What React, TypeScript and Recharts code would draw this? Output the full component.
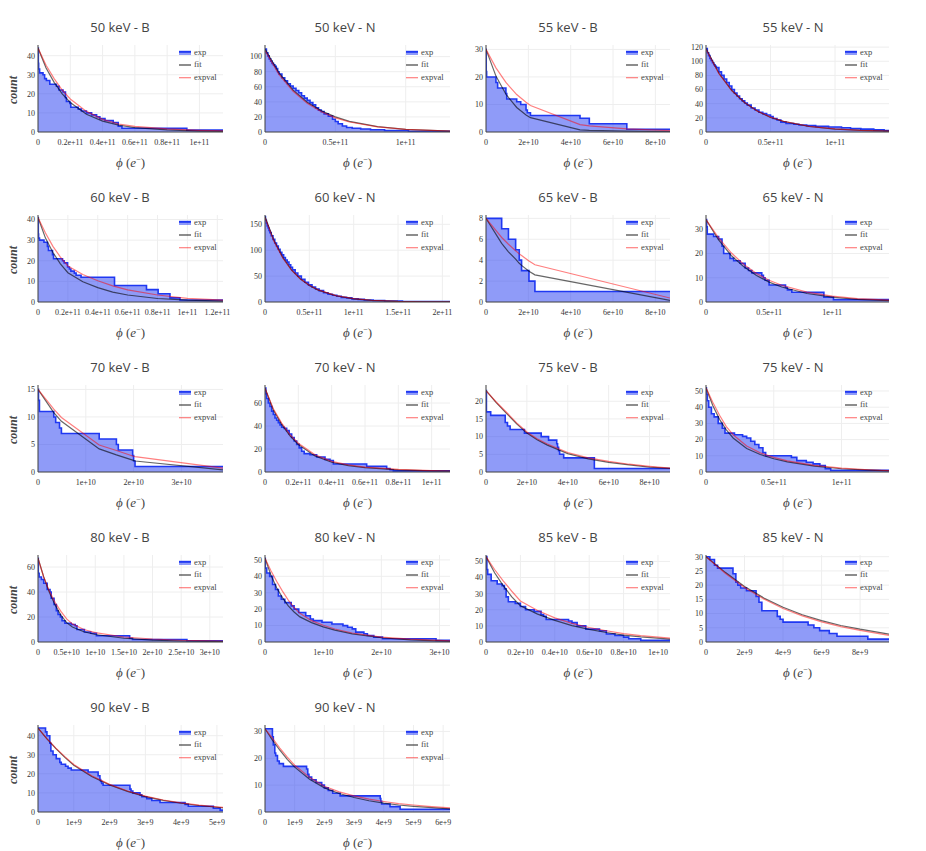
import React from "react";
import { ComposedChart, Area, Line, XAxis, YAxis, CartesianGrid } from "recharts";

// ---- x tick sets (values in panel units, labels as printed) ----
const TICKS_E11_FINE = [0, 0.2, 0.4, 0.6, 0.8, 1];
const LABELS_E11_FINE = ["0", "0.2e+11", "0.4e+11", "0.6e+11", "0.8e+11", "1e+11"];
const TICKS_E11_FINE12 = [0, 0.2, 0.4, 0.6, 0.8, 1, 1.2];
const LABELS_E11_FINE12 = ["0", "0.2e+11", "0.4e+11", "0.6e+11", "0.8e+11", "1e+11", "1.2e+11"];
const TICKS_E11_HALF = [0, 0.5, 1];
const LABELS_E11_HALF = ["0", "0.5e+11", "1e+11"];
const TICKS_E11_HALF2 = [0, 0.5, 1, 1.5, 2];
const LABELS_E11_HALF2 = ["0", "0.5e+11", "1e+11", "1.5e+11", "2e+11"];
const TICKS_E10_TWO = [0, 2, 4, 6, 8];
const LABELS_E10_TWO = ["0", "2e+10", "4e+10", "6e+10", "8e+10"];
const TICKS_E10_ONE = [0, 1, 2, 3];
const LABELS_E10_ONE = ["0", "1e+10", "2e+10", "3e+10"];
const TICKS_E10_HALF = [0, 0.5, 1, 1.5, 2, 2.5, 3];
const LABELS_E10_HALF = ["0", "0.5e+10", "1e+10", "1.5e+10", "2e+10", "2.5e+10", "3e+10"];
const TICKS_E10_FINE = [0, 0.2, 0.4, 0.6, 0.8, 1];
const LABELS_E10_FINE = ["0", "0.2e+10", "0.4e+10", "0.6e+10", "0.8e+10", "1e+10"];
const TICKS_E9_TWO = [0, 2, 4, 6, 8];
const LABELS_E9_TWO = ["0", "2e+9", "4e+9", "6e+9", "8e+9"];
const TICKS_E9_FIVE = [0, 1, 2, 3, 4, 5];
const LABELS_E9_FIVE = ["0", "1e+9", "2e+9", "3e+9", "4e+9", "5e+9"];
const TICKS_E9_SIX = [0, 1, 2, 3, 4, 5, 6];
const LABELS_E9_SIX = ["0", "1e+9", "2e+9", "3e+9", "4e+9", "5e+9", "6e+9"];

// ---- 50 keV - B (phi in 1e11) ----
const b50_phi = [0, 0.002, 0.004, 0.01, 0.031, 0.041, 0.052, 0.073, 0.114, 0.13, 0.155, 0.17, 0.176, 0.197, 0.203, 0.249, 0.269, 0.3, 0.332, 0.363, 0.383, 0.415, 0.466, 0.497, 0.52, 0.922, 1.146];
const b50_count = [44, 36, 33, 31, 30, 28, 27, 25, 24, 22, 21, 18, 16, 15, 13, 12, 11, 10, 9, 8, 7, 6, 5, 3, 2, 1, 1];
const b50_curvePhi = [0, 0.05, 0.1, 0.15, 0.2, 0.3, 0.4, 0.5, 0.6, 0.8, 1.0, 1.146];
const b50_fit = [44, 33.5, 26, 20, 15.5, 9.3, 5.7, 3.6, 2.3, 1.1, 0.5, 0.3];
const b50_expval = [44, 35, 28, 22, 17.3, 10.8, 6.6, 4.2, 2.9, 1.6, 0.9, 0.6];

// ---- 50 keV - N (1e11) ----
const n50_phi = [0, 0.01, 0.02, 0.03, 0.04, 0.05, 0.06, 0.07, 0.08, 0.09, 0.1, 0.12, 0.14, 0.16, 0.18, 0.2, 0.22, 0.24, 0.26, 0.28, 0.3, 0.32, 0.34, 0.36, 0.38, 0.4, 0.42, 0.45, 0.48, 0.5, 0.52, 0.55, 0.58, 0.62, 0.68, 0.75, 0.85, 1.02, 1.315];
const n50_count = [110, 105, 101, 97, 94, 91, 89, 87, 84, 80, 77, 72, 68, 64, 61, 58, 55, 52, 48, 45, 42, 39, 36, 32, 29, 27, 24, 21, 17, 14, 11, 8, 6, 5, 4, 3, 2, 1, 1];
const n50_curvePhi = [0, 0.1, 0.2, 0.3, 0.4, 0.5, 0.6, 0.8, 1.0, 1.315];
const n50_fit = [110, 78.2, 55.6, 39.5, 28.1, 20, 14.2, 7.2, 3.6, 1.2];
const n50_expval = [108, 76, 54, 38, 26.8, 18.8, 13.3, 6.8, 3.4, 1.2];

// ---- 55 keV - B (1e10) ----
const b55_phi = [0, 0.01, 0.03, 0.47, 0.55, 0.94, 0.98, 1.45, 1.64, 1.89, 1.95, 2.1, 4.44, 4.88, 6.65, 8.69];
const b55_count = [30, 22, 20, 18, 16, 14, 12, 11, 10, 8, 7, 6, 5, 3, 1, 1];
const b55_curvePhi = [0, 0.47, 0.94, 1.45, 1.89, 2.1, 4.44, 4.88, 6.65, 8.69];
const b55_fit = [30, 20.3, 13.7, 8.9, 6.2, 5.2, 0.8, 0.6, 0.3, 0.15];
const b55_expval = [30, 23.3, 18, 13.6, 10.8, 9.6, 2.7, 2.2, 1.1, 0.5];

// ---- 55 keV - N (1e11) ----
const n55_phi = [0, 0.01, 0.02, 0.03, 0.04, 0.05, 0.06, 0.07, 0.08, 0.1, 0.12, 0.14, 0.16, 0.18, 0.2, 0.22, 0.24, 0.26, 0.28, 0.3, 0.32, 0.35, 0.38, 0.41, 0.44, 0.47, 0.5, 0.52, 0.55, 0.58, 0.62, 0.68, 0.72, 0.78, 0.85, 0.95, 1.05, 1.12, 1.2, 1.3, 1.38, 1.418];
const n55_count = [118, 112, 108, 104, 101, 98, 95, 93, 91, 85, 80, 75, 70, 65, 60, 55, 51, 47, 44, 41, 38, 34, 31, 28, 26, 24, 22, 19, 17, 14, 12, 11, 10, 9, 8, 7, 6, 5, 4, 3, 2, 1];
const n55_curvePhi = [0, 0.1, 0.2, 0.3, 0.4, 0.5, 0.6, 0.8, 1.0, 1.2, 1.418];
const n55_fit = [118, 83, 58.6, 41.3, 29.2, 20.5, 15, 7.8, 4.2, 2.3, 1.2];
const n55_expval = [117, 82.5, 58.5, 41.5, 29.5, 21, 15.2, 8, 4.4, 2.4, 1.3];

// ---- 60 keV - B (1e11) ----
const b60_phi = [0, 0.002, 0.004, 0.01, 0.04, 0.063, 0.07, 0.097, 0.104, 0.164, 0.175, 0.198, 0.21, 0.22, 0.243, 0.255, 0.288, 0.512, 0.726, 0.804, 0.883, 0.95, 1.238];
const b60_count = [41, 33, 31, 30, 29, 27, 25, 23, 21, 20, 19, 17, 16, 15, 14, 13, 12, 8, 6, 4, 2, 1, 1];
const b60_curvePhi = [0, 0.05, 0.1, 0.15, 0.2, 0.3, 0.4, 0.5, 0.6, 0.8, 1.0, 1.238];
const b60_fit = [41, 31, 24, 18.5, 14.2, 9.8, 7.0, 4.8, 3.4, 1.7, 0.9, 0.4];
const b60_expval = [41, 33.5, 27, 21.8, 17.5, 13.3, 10.3, 7.8, 5.9, 3.4, 1.8, 0.9];

// ---- 60 keV - N (1e11) ----
const n60_phi = [0, 0.005, 0.015, 0.025, 0.035, 0.045, 0.055, 0.07, 0.09, 0.11, 0.13, 0.15, 0.17, 0.19, 0.21, 0.23, 0.25, 0.27, 0.29, 0.31, 0.34, 0.37, 0.41, 0.45, 0.49, 0.53, 0.57, 0.61, 0.66, 0.71, 0.76, 0.81, 0.86, 0.92, 0.98, 1.05, 1.12, 1.22, 1.35, 1.55, 2.086];
const n60_count = [165, 158, 152, 147, 143, 138, 134, 128, 121, 114, 108, 102, 96, 91, 86, 81, 77, 72, 67, 62, 56, 50, 44, 38, 33, 29, 25, 22, 18, 15, 13, 11, 9, 8, 6, 5, 4, 3, 2, 1, 1];
const n60_curvePhi = [0, 0.1, 0.2, 0.3, 0.4, 0.5, 0.6, 0.8, 1.0, 1.2, 1.5, 1.8, 2.086];
const n60_fit = [165, 119, 86, 61.5, 44.5, 32, 23, 12, 6.2, 3.2, 1.2, 0.45, 0.18];
const n60_expval = [163, 118, 85, 61.5, 44.5, 32.3, 23.3, 12.2, 6.5, 3.4, 1.3, 0.5, 0.2];

// ---- 65 keV - B (1e10) ----
const b65_phi = [0, 0.74, 1.06, 1.4, 1.57, 1.68, 2.03, 2.31, 8.69];
const b65_count = [8, 7, 6, 5, 4, 3, 2, 1, 1];
const b65_curvePhi = [0, 0.74, 1.06, 1.4, 1.57, 1.68, 2.03, 2.31, 8.69];
const b65_fit = [8, 5.6, 4.8, 4.1, 3.7, 3.5, 2.95, 2.6, 0.15];
const b65_expval = [8, 6.17, 5.52, 4.9, 4.6, 4.44, 3.92, 3.56, 0.38];

// ---- 65 keV - N (1e11) ----
const n65_phi = [0, 0.005, 0.01, 0.06, 0.1, 0.127, 0.14, 0.19, 0.219, 0.27, 0.31, 0.337, 0.363, 0.442, 0.455, 0.468, 0.5, 0.63, 0.645, 0.68, 0.934, 1.01, 1.45];
const n65_count = [34, 31, 28, 27, 26, 23, 20, 18, 17, 16, 14, 13, 12, 11, 10, 9, 7, 6, 5, 4, 2, 1, 1];
const n65_curvePhi = [0, 0.1, 0.2, 0.3, 0.4, 0.5, 0.6, 0.8, 1.0, 1.2, 1.45];
const n65_fit = [34, 25.6, 19.2, 14.5, 10.9, 8.2, 6.2, 3.5, 2.0, 1.1, 0.56];
const n65_expval = [34, 26.5, 20.3, 15.5, 11.8, 9.0, 6.9, 4.1, 2.4, 1.4, 0.8];

// ---- 70 keV - B (1e10) ----
const b70_phi = [0, 0.01, 0.03, 0.33, 0.37, 0.45, 0.49, 1.28, 1.64, 1.68, 1.98, 2.0, 2.03, 3.87];
const b70_count = [15, 13, 11, 10, 9, 8, 7, 6, 5, 4, 3, 2, 1, 1];
const b70_curvePhi = [0, 0.33, 0.49, 1.28, 1.64, 1.98, 2.03, 3.87];
const b70_fit = [15, 10.8, 9.2, 4.2, 3.1, 2.15, 2.0, 0.4];
const b70_expval = [15, 11.4, 9.9, 4.9, 3.9, 2.9, 2.8, 0.7];

// ---- 70 keV - N (1e11) ----
const n70_phi = [0, 0.005, 0.01, 0.02, 0.03, 0.04, 0.05, 0.06, 0.07, 0.08, 0.09, 0.1, 0.115, 0.13, 0.145, 0.16, 0.175, 0.19, 0.205, 0.22, 0.235, 0.27, 0.31, 0.36, 0.39, 0.41, 0.61, 0.73, 0.75, 0.77, 1.11];
const n70_count = [73, 68, 64, 60, 57, 53, 50, 47, 45, 43, 41, 39, 38, 36, 33, 30, 27, 24, 21, 18, 16, 15, 13, 11, 10, 7, 5, 3, 2, 1, 1];
const n70_curvePhi = [0, 0.05, 0.1, 0.15, 0.2, 0.3, 0.4, 0.5, 0.6, 0.8, 1.0, 1.11];
const n70_fit = [73, 54, 41.5, 31.5, 24, 14, 8.5, 5.6, 3.8, 1.9, 1.0, 0.7];
const n70_expval = [73, 55, 42.5, 32.5, 25, 15, 9.3, 6.2, 4.3, 2.2, 1.2, 0.85];

// ---- 75 keV - B (1e10) ----
const b75_phi = [0, 0.02, 0.23, 0.94, 1.05, 1.18, 1.88, 2.7, 3.06, 3.46, 3.5, 3.55, 3.6, 3.8, 5.3, 9.0];
const b75_count = [23, 17, 16, 14, 13, 12, 11, 10, 9, 8, 7, 6, 5, 4, 1, 1];
const b75_curvePhi = [0, 0.5, 1, 1.5, 2, 2.5, 3, 4, 5, 6, 7, 8, 9];
const b75_fit = [23, 19.6, 16.6, 13.6, 11.0, 9.1, 7.6, 5.2, 3.7, 2.7, 2.0, 1.4, 1.0];
const b75_expval = [23, 19.8, 16.9, 13.9, 11.3, 9.4, 7.9, 5.5, 4.0, 3.0, 2.2, 1.6, 1.1];

// ---- 75 keV - N (1e11) ----
const n75_phi = [0, 0.003, 0.01, 0.02, 0.04, 0.06, 0.09, 0.12, 0.14, 0.21, 0.27, 0.3, 0.33, 0.36, 0.39, 0.42, 0.44, 0.63, 0.67, 0.74, 0.79, 0.84, 0.88, 0.92, 1.35];
const n75_count = [52, 48, 44, 40, 36, 34, 30, 27, 24, 23, 22, 21, 19, 17, 15, 12, 10, 9, 7, 6, 5, 4, 2, 1, 1];
const n75_curvePhi = [0, 0.05, 0.1, 0.15, 0.2, 0.3, 0.4, 0.5, 0.6, 0.8, 1.0, 1.2, 1.35];
const n75_fit = [52, 41, 32.5, 26, 21, 14.5, 10.8, 8.2, 6.2, 3.6, 2.0, 1.1, 0.7];
const n75_expval = [52, 43, 35, 28, 23, 16, 11.8, 9.0, 6.9, 4.1, 2.4, 1.4, 0.9];

// ---- 80 keV - B (1e10) ----
const b80_phi = [0, 0.005, 0.02, 0.06, 0.1, 0.16, 0.21, 0.23, 0.28, 0.32, 0.35, 0.39, 0.42, 0.47, 0.58, 0.65, 0.68, 0.81, 0.92, 1.02, 1.6, 1.65, 2.6, 3.23];
const b80_count = [67, 55, 52, 50, 47, 42, 40, 35, 30, 25, 22, 20, 17, 15, 14, 13, 10, 8, 7, 5, 3, 2, 1, 1];
const b80_curvePhi = [0, 0.1, 0.2, 0.3, 0.4, 0.5, 0.6, 0.8, 1.0, 1.5, 2.0, 2.5, 3.23];
const b80_fit = [67, 52, 39.5, 29.5, 21.5, 15.5, 12, 8.2, 6, 3, 1.5, 0.8, 0.3];
const b80_expval = [67, 52, 40.5, 31.5, 24.5, 18.5, 14.5, 10, 7.5, 4, 2.4, 1.4, 0.8];

// ---- 80 keV - N (1e10) ----
const n80_phi = [0, 0.005, 0.03, 0.08, 0.13, 0.18, 0.23, 0.28, 0.34, 0.45, 0.5, 0.58, 0.7, 0.78, 0.83, 0.98, 1.15, 1.34, 1.42, 1.5, 1.56, 1.7, 1.76, 1.87, 2.02, 2.94, 3.18];
const n80_count = [51, 45, 42, 40, 35, 32, 28, 26, 24, 22, 20, 18, 16, 14, 13, 12, 11, 10, 9, 8, 6, 5, 4, 3, 2, 1, 1];
const n80_curvePhi = [0, 0.1, 0.2, 0.3, 0.4, 0.5, 0.6, 0.8, 1.0, 1.2, 1.5, 2.0, 2.5, 3.18];
const n80_fit = [51, 41, 33, 27, 22, 18.3, 15.3, 11.8, 9.2, 7.2, 5.0, 2.6, 1.3, 0.4];
const n80_expval = [51, 43.5, 37, 31, 25.5, 21, 17.5, 13, 10.2, 7.9, 5.5, 3.0, 1.7, 0.7];

// ---- 85 keV - B (1e10) ----
const b85_phi = [0, 0.005, 0.01, 0.03, 0.065, 0.093, 0.107, 0.117, 0.13, 0.17, 0.2, 0.23, 0.28, 0.32, 0.335, 0.35, 0.48, 0.5, 0.53, 0.58, 0.66, 0.7, 0.75, 0.8, 0.83, 0.9, 1.07];
const b85_count = [53, 45, 42, 38, 36, 35, 33, 28, 25, 24, 22, 20, 19, 17, 16, 14, 13, 12, 10, 8, 7, 5, 4, 3, 2, 1, 1];
const b85_curvePhi = [0, 0.05, 0.1, 0.15, 0.2, 0.3, 0.4, 0.5, 0.6, 0.7, 0.8, 0.9, 1.07];
const b85_fit = [53, 43, 35, 28, 22.5, 17.3, 13.4, 10.2, 7.8, 5.9, 4.3, 3.2, 1.8];
const b85_expval = [53, 45, 38, 31.5, 25.5, 19.5, 15, 11.6, 9.0, 7.0, 5.2, 4.0, 2.4];

// ---- 85 keV - N (1e9) ----
const n85_phi = [0, 0.2, 0.44, 0.6, 1.4, 1.55, 1.65, 1.8, 2.1, 2.6, 2.75, 2.9, 3.7, 3.85, 4.0, 5.3, 5.6, 5.9, 6.4, 6.8, 8.4, 9.5];
const n85_count = [30, 29, 27, 26, 24, 21, 20, 19, 18, 16, 14, 11, 9, 8, 7, 6, 5, 4, 3, 2, 1, 1];
const n85_curvePhi = [0, 1, 2, 3, 4, 5, 6, 7, 8, 9.5];
const n85_fit = [30, 24.5, 19.5, 15.5, 12.2, 9.6, 7.5, 5.8, 4.5, 2.8];
const n85_expval = [30, 24.2, 19.2, 15.1, 11.8, 9.2, 7.1, 5.4, 4.1, 2.3];

// ---- 90 keV - B (1e9) ----
const b90_phi = [0, 0.21, 0.25, 0.33, 0.36, 0.42, 0.51, 0.61, 0.65, 0.77, 0.84, 0.93, 1.4, 1.68, 1.73, 1.75, 1.78, 1.82, 2.57, 2.6, 2.65, 2.85, 2.9, 3.04, 3.18, 3.41, 4.11, 4.2, 4.9, 5.09, 5.17];
const b90_count = [44, 42, 40, 36, 32, 30, 28, 26, 25, 24, 23, 22, 21, 19, 17, 16, 15, 14, 12, 11, 10, 9, 8, 7, 6, 5, 4, 3, 2, 1, 1];
const b90_curvePhi = [0, 0.25, 0.5, 0.75, 1, 1.5, 2, 2.5, 3, 3.5, 4, 4.5, 5, 5.17];
const b90_fit = [44, 38.3, 33.2, 28.6, 24.5, 18.6, 14.2, 10.8, 8.1, 6.1, 4.6, 3.4, 2.5, 2.2];
const b90_expval = [44, 38.5, 33.5, 29, 24.9, 19, 14.5, 11, 8.3, 6.3, 4.8, 3.6, 2.7, 2.4];

// ---- 90 keV - N (1e9) ----
const n90_phi = [0, 0.25, 0.28, 0.33, 0.36, 0.42, 0.48, 0.62, 1.4, 1.44, 1.48, 1.57, 1.72, 1.91, 2.0, 2.13, 2.28, 2.53, 3.88, 3.9, 3.93, 4.21, 4.55, 6.23];
const n90_count = [31, 28, 25, 22, 21, 19, 18, 17, 16, 14, 13, 12, 11, 10, 9, 8, 7, 6, 5, 4, 3, 2, 1, 1];
const n90_curvePhi = [0, 0.25, 0.5, 0.75, 1, 1.5, 2, 2.5, 3, 3.5, 4, 4.5, 5, 5.5, 6.23];
const n90_fit = [31, 26.8, 23, 19.6, 16.7, 12.2, 9.0, 6.9, 5.4, 4.2, 3.3, 2.6, 2.1, 1.7, 1.2];
const n90_expval = [31, 27.5, 23.8, 20.4, 17.4, 12.9, 9.6, 7.5, 6.0, 4.8, 3.9, 3.1, 2.6, 2.1, 1.5];

const PANELS = [
  { title: "50 keV - B", unit: 1e11, xMax: 1.146, yTop: 45.6, yTicks: [0, 10, 20, 30, 40], xTicks: TICKS_E11_FINE, xLabels: LABELS_E11_FINE, phi: b50_phi, count: b50_count, curvePhi: b50_curvePhi, fit: b50_fit, expval: b50_expval },
  { title: "50 keV - N", unit: 1e11, xMax: 1.315, yTop: 115.4, yTicks: [0, 20, 40, 60, 80, 100], xTicks: TICKS_E11_HALF, xLabels: LABELS_E11_HALF, phi: n50_phi, count: n50_count, curvePhi: n50_curvePhi, fit: n50_fit, expval: n50_expval },
  { title: "55 keV - B", unit: 1e10, xMax: 8.69, yTop: 31.6, yTicks: [0, 10, 20, 30], xTicks: TICKS_E10_TWO, xLabels: LABELS_E10_TWO, phi: b55_phi, count: b55_count, curvePhi: b55_curvePhi, fit: b55_fit, expval: b55_expval },
  { title: "55 keV - N", unit: 1e11, xMax: 1.418, yTop: 123, yTicks: [0, 20, 40, 60, 80, 100, 120], xTicks: TICKS_E11_HALF, xLabels: LABELS_E11_HALF, phi: n55_phi, count: n55_count, curvePhi: n55_curvePhi, fit: n55_fit, expval: n55_expval },
  { title: "60 keV - B", unit: 1e11, xMax: 1.238, yTop: 42.2, yTicks: [0, 10, 20, 30, 40], xTicks: TICKS_E11_FINE12, xLabels: LABELS_E11_FINE12, phi: b60_phi, count: b60_count, curvePhi: b60_curvePhi, fit: b60_fit, expval: b60_expval },
  { title: "60 keV - N", unit: 1e11, xMax: 2.086, yTop: 168, yTicks: [0, 50, 100, 150], xTicks: TICKS_E11_HALF2, xLabels: LABELS_E11_HALF2, phi: n60_phi, count: n60_count, curvePhi: n60_curvePhi, fit: n60_fit, expval: n60_expval },
  { title: "65 keV - B", unit: 1e10, xMax: 8.69, yTop: 8.32, yTicks: [0, 2, 4, 6, 8], xTicks: TICKS_E10_TWO, xLabels: LABELS_E10_TWO, phi: b65_phi, count: b65_count, curvePhi: b65_curvePhi, fit: b65_fit, expval: b65_expval },
  { title: "65 keV - N", unit: 1e11, xMax: 1.45, yTop: 35.9, yTicks: [0, 10, 20, 30], xTicks: TICKS_E11_HALF, xLabels: LABELS_E11_HALF, phi: n65_phi, count: n65_count, curvePhi: n65_curvePhi, fit: n65_fit, expval: n65_expval },
  { title: "70 keV - B", unit: 1e10, xMax: 3.87, yTop: 15.8, yTicks: [0, 5, 10, 15], xTicks: TICKS_E10_ONE, xLabels: LABELS_E10_ONE, phi: b70_phi, count: b70_count, curvePhi: b70_curvePhi, fit: b70_fit, expval: b70_expval },
  { title: "70 keV - N", unit: 1e11, xMax: 1.11, yTop: 75.7, yTicks: [0, 20, 40, 60], xTicks: TICKS_E11_FINE, xLabels: LABELS_E11_FINE, phi: n70_phi, count: n70_count, curvePhi: n70_curvePhi, fit: n70_fit, expval: n70_expval },
  { title: "75 keV - B", unit: 1e10, xMax: 9.0, yTop: 24.6, yTicks: [0, 5, 10, 15, 20], xTicks: TICKS_E10_TWO, xLabels: LABELS_E10_TWO, phi: b75_phi, count: b75_count, curvePhi: b75_curvePhi, fit: b75_fit, expval: b75_expval },
  { title: "75 keV - N", unit: 1e11, xMax: 1.35, yTop: 53.7, yTicks: [0, 10, 20, 30, 40, 50], xTicks: TICKS_E11_HALF, xLabels: LABELS_E11_HALF, phi: n75_phi, count: n75_count, curvePhi: n75_curvePhi, fit: n75_fit, expval: n75_expval },
  { title: "80 keV - B", unit: 1e10, xMax: 3.23, yTop: 69.6, yTicks: [0, 20, 40, 60], xTicks: TICKS_E10_HALF, xLabels: LABELS_E10_HALF, phi: b80_phi, count: b80_count, curvePhi: b80_curvePhi, fit: b80_fit, expval: b80_expval },
  { title: "80 keV - N", unit: 1e10, xMax: 3.18, yTop: 53, yTicks: [0, 10, 20, 30, 40, 50], xTicks: TICKS_E10_ONE, xLabels: LABELS_E10_ONE, phi: n80_phi, count: n80_count, curvePhi: n80_curvePhi, fit: n80_fit, expval: n80_expval },
  { title: "85 keV - B", unit: 1e10, xMax: 1.07, yTop: 54, yTicks: [0, 10, 20, 30, 40, 50], xTicks: TICKS_E10_FINE, xLabels: LABELS_E10_FINE, phi: b85_phi, count: b85_count, curvePhi: b85_curvePhi, fit: b85_fit, expval: b85_expval },
  { title: "85 keV - N", unit: 1e9, xMax: 9.5, yTop: 30.6, yTicks: [0, 5, 10, 15, 20, 25, 30], xTicks: TICKS_E9_TWO, xLabels: LABELS_E9_TWO, phi: n85_phi, count: n85_count, curvePhi: n85_curvePhi, fit: n85_fit, expval: n85_expval },
  { title: "90 keV - B", unit: 1e9, xMax: 5.17, yTop: 45.6, yTicks: [0, 10, 20, 30, 40], xTicks: TICKS_E9_FIVE, xLabels: LABELS_E9_FIVE, phi: b90_phi, count: b90_count, curvePhi: b90_curvePhi, fit: b90_fit, expval: b90_expval },
  { title: "90 keV - N", unit: 1e9, xMax: 6.23, yTop: 32.4, yTicks: [0, 10, 20, 30], xTicks: TICKS_E9_SIX, xLabels: LABELS_E9_SIX, phi: n90_phi, count: n90_count, curvePhi: n90_curvePhi, fit: n90_fit, expval: n90_expval },
];

// grid geometry (page pixels)
const COL_LEFT = [38, 265, 486, 706];
const COL_WIDTH = [185, 185, 184, 183];
const TITLE_X = [120, 345, 568, 793];
const ROW_ZERO = [131.7, 301.7, 471.7, 641.7, 811.7];
const PLOT_H = 87;
const Y_AXIS_W = 32;
const X_AXIS_H = 40;
const PAD_TOP = 8;
const PAD_RIGHT = 12;

const EXP_BLUE = "#1f38f2";
const SERIF = "Liberation Serif";
const TICK_STYLE = { fontFamily: SERIF, fontSize: 8, fill: "#333" };
const LEGEND_TEXT = { fontFamily: SERIF, fontSize: 8.5, fill: "#444" };

function SurvivalPanel({ p, idx }: { p: any; idx: number }) {
  const col = idx % 4;
  const row = Math.floor(idx / 4);
  const left = COL_LEFT[col];
  const width = COL_WIDTH[col];
  const zero = ROW_ZERO[row];
  const top = zero - PLOT_H;

  const expData = p.phi.map((x: number, i: number) => ({ x: x * p.unit, y: p.count[i] }));
  const fitData = p.curvePhi.map((x: number, i: number) => ({ x: x * p.unit, y: p.fit[i] }));
  const expvalData = p.curvePhi.map((x: number, i: number) => ({ x: x * p.unit, y: p.expval[i] }));
  const xTicks = p.xTicks.map((t: number) => t * p.unit);

  return (
    <>
      <div style={{ position: "absolute", left: left - Y_AXIS_W, top: top - PAD_TOP }}>
        <ComposedChart
          width={Y_AXIS_W + width + PAD_RIGHT}
          height={PAD_TOP + PLOT_H + X_AXIS_H}
          margin={{ top: PAD_TOP, right: PAD_RIGHT, bottom: 0, left: 0 }}
        >
          <CartesianGrid stroke="#eeeeee" strokeWidth={1} syncWithTicks />
          <XAxis
            type="number"
            dataKey="x"
            domain={[0, p.xMax * p.unit]}
            ticks={xTicks}
            interval={0}
            allowDataOverflow
            tickFormatter={(v: number, i: number) => {
              const k = xTicks.indexOf(v);
              return p.xLabels[k >= 0 ? k : i];
            }}
            height={X_AXIS_H}
            axisLine={{ stroke: "#444", strokeWidth: 1 }}
            tickLine={false}
            tickSize={0}
            tickMargin={7}
            tick={TICK_STYLE}
          />
          <YAxis
            type="number"
            domain={[0, p.yTop]}
            ticks={p.yTicks}
            interval={0}
            allowDataOverflow
            width={Y_AXIS_W}
            axisLine={{ stroke: "#444", strokeWidth: 1 }}
            tickLine={false}
            tickSize={0}
            tickMargin={3}
            tick={TICK_STYLE}
          />
          <Area
            data={expData}
            dataKey="y"
            type="stepAfter"
            stroke={EXP_BLUE}
            strokeWidth={1.6}
            fill={EXP_BLUE}
            fillOpacity={0.5}
            isAnimationActive={false}
          />
          <Line
            data={fitData}
            dataKey="y"
            type="linear"
            stroke="#000"
            strokeOpacity={0.6}
            strokeWidth={1.2}
            dot={false}
            activeDot={false}
            isAnimationActive={false}
          />
          <Line
            data={expvalData}
            dataKey="y"
            type="linear"
            stroke="#ff0000"
            strokeOpacity={0.5}
            strokeWidth={1.2}
            dot={false}
            activeDot={false}
            isAnimationActive={false}
          />
        </ComposedChart>
      </div>

      {/* subplot title */}
      <div
        style={{
          position: "absolute",
          left: TITLE_X[col],
          top: zero - 104.5,
          transform: "translate(-50%, -50%)",
          fontFamily: "'Open Sans', sans-serif",
          fontSize: 13,
          color: "#444",
          whiteSpace: "nowrap",
        }}
      >
        {p.title}
      </div>

      {/* x axis title */}
      <div
        style={{
          position: "absolute",
          left: left + width / 2,
          top: zero + 31,
          transform: "translate(-50%, -50%)",
          fontFamily: SERIF,
          fontSize: 13,
          color: "#444",
          whiteSpace: "nowrap",
        }}
      >
        <i>ϕ</i> (<i>e</i>
        <sup style={{ fontSize: 8 }}>−</sup>)
      </div>

      {col === 0 && (
        <div
          style={{
            position: "absolute",
            left: 13,
            top: zero - 42,
            transform: "translate(-50%, -50%) rotate(-90deg)",
            fontFamily: SERIF,
            fontStyle: "italic",
            fontWeight: "bold",
            fontSize: 12,
            color: "#444",
          }}
        >
          count
        </div>
      )}

      {/* legend */}
      <svg
        style={{ position: "absolute", left: left + width - 45, top: top + 2 }}
        width={46}
        height={40}
      >
        <rect x={1} y={4.5} width={12} height={3.5} fill={EXP_BLUE} fillOpacity={0.5} />
        <line x1={1} x2={13} y1={4.8} y2={4.8} stroke={EXP_BLUE} strokeWidth={2} />
        <text x={16} y={6} dominantBaseline="middle" style={LEGEND_TEXT}>
          exp
        </text>
        <line x1={1} x2={13} y1={18} y2={18} stroke="#000" strokeOpacity={0.6} strokeWidth={1.5} />
        <text x={16} y={18} dominantBaseline="middle" style={LEGEND_TEXT}>
          fit
        </text>
        <line x1={1} x2={13} y1={30.7} y2={30.7} stroke="#ff0000" strokeOpacity={0.5} strokeWidth={1.2} />
        <text x={16} y={30.7} dominantBaseline="middle" style={LEGEND_TEXT}>
          expval
        </text>
      </svg>
    </>
  );
}

export default function App() {
  return (
    <div
      style={{
        position: "absolute",
        left: 0,
        top: 0,
        width: 926,
        height: 851,
        background: "#fff",
        overflow: "hidden",
      }}
    >
      {PANELS.map((p, i) => (
        <SurvivalPanel key={p.title} p={p} idx={i} />
      ))}
    </div>
  );
}
